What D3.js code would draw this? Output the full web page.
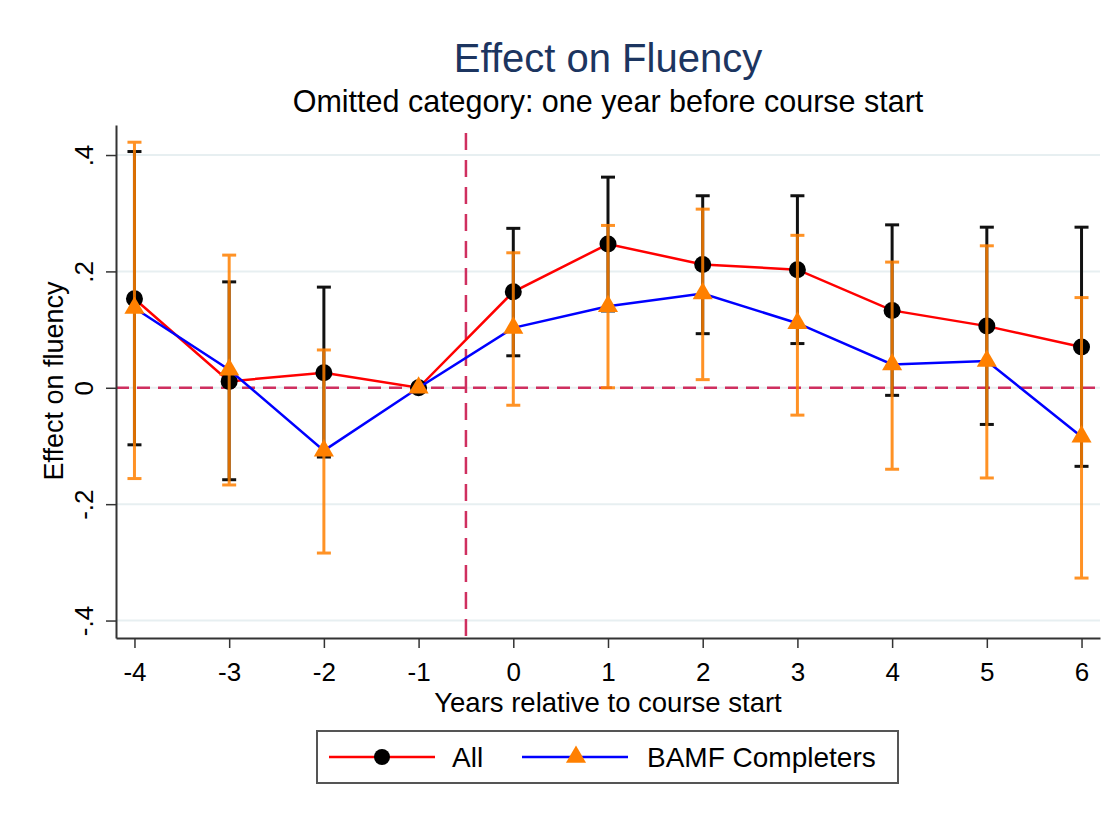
<!DOCTYPE html>
<html>
  <head>
    <meta charset="UTF-8">
    <script src="https://d3js.org/d3.v7.min.js" charset="utf-8"></script>
    <title>Effect on Fluency</title>
    <style>
      body { margin: 0; background: #fff; }
      text { font-family: "Liberation Sans", Arial, sans-serif; }
    </style>
  </head>
  <body>
    <svg class="chart"></svg>
    <script type="text/javascript">

     // values
     var years = [-4, -3, -2, -1, 0, 1, 2, 3, 4, 5, 6];
     var allCoef = [0.153, 0.011, 0.026, 0, 0.165, 0.247, 0.212, 0.203, 0.133, 0.106, 0.070];
     var allLo   = [-0.098, -0.158, -0.119, null, 0.055, 0.132, 0.093, 0.076, -0.013, -0.063, -0.135];
     var allHi   = [0.406, 0.182, 0.173, null, 0.274, 0.362, 0.330, 0.330, 0.280, 0.276, 0.276];
     var bamfCoef = [0.137, 0.031, -0.108, 0, 0.103, 0.140, 0.162, 0.111, 0.040, 0.046, -0.084];
     var bamfLo   = [-0.156, -0.167, -0.284, null, -0.030, 0.000, 0.014, -0.047, -0.140, -0.155, -0.327];
     var bamfHi   = [0.422, 0.228, 0.065, null, 0.232, 0.279, 0.307, 0.262, 0.216, 0.244, 0.155];
     var yTicks = [-0.4, -0.2, 0, 0.2, 0.4];
     var yTickLabels = ["-.4", "-.2", "0", ".2", ".4"];
     var legendNames = ["All", "BAMF Completers"];

     var width = 1119,
         height = 820,
         plotLeft = 116, plotRight = 1100,
         plotTop = 125, plotBottom = 638,
         capW = 7;

     var chart = d3.select(".chart")
                   .attr("width", width)
                   .attr("height", height);

     var x = d3.scaleLinear().domain([-4.195, 6.195]).range([plotLeft, plotRight]);
     var y = d3.scaleLinear().domain([-0.43, 0.4516]).range([plotBottom, plotTop]);

     function rows(coef, lo, hi) {
         return years.map(function(yr, i) {
             return {yr: yr, c: coef[i], lo: lo[i], hi: hi[i]};
         });
     }
     var allRows = rows(allCoef, allLo, allHi);
     var bamfRows = rows(bamfCoef, bamfLo, bamfHi);

     // grid
     chart.append("g").selectAll("line")
          .data(yTicks).enter().append("line")
          .attr("x1", plotLeft).attr("x2", plotRight)
          .attr("y1", function(d) { return y(d); })
          .attr("y2", function(d) { return y(d); })
          .attr("stroke", "#e7eff1").attr("stroke-width", 2);

     // reference lines
     chart.append("line")
          .attr("x1", plotLeft).attr("x2", plotRight)
          .attr("y1", y(0)).attr("y2", y(0))
          .attr("stroke", "#cf2f5f").attr("stroke-width", 2.5)
          .attr("stroke-dasharray", "13,8");
     chart.append("line")
          .attr("x1", x(-0.5)).attr("x2", x(-0.5))
          .attr("y1", plotTop).attr("y2", plotBottom)
          .attr("stroke", "#cf2f5f").attr("stroke-width", 2.5)
          .attr("stroke-dasharray", "17,10")
          .attr("stroke-dashoffset", -8);

     // axes
     var yAxis = chart.append("g")
          .attr("transform", "translate(" + plotLeft + ",0)")
          .call(d3.axisLeft(y).tickValues(yTicks).tickSize(10).tickSizeOuter(0)
                  .tickFormat(function(d, i) { return yTickLabels[i]; }));
     yAxis.select(".domain").attr("stroke", "#333").attr("stroke-width", 2);
     yAxis.selectAll(".tick line").attr("stroke", "#333").attr("stroke-width", 1.5);
     yAxis.selectAll(".tick text")
          .attr("transform", "rotate(-90)")
          .attr("x", 0).attr("y", -23).attr("dy", 0)
          .attr("text-anchor", "middle")
          .attr("fill", "#000")
          .style("font-size", "26px");

     var xAxis = chart.append("g")
          .attr("transform", "translate(0," + plotBottom + ")")
          .call(d3.axisBottom(x).tickValues(years).tickSize(10).tickSizeOuter(0)
                  .tickFormat(function(d) { return String(d); }));
     xAxis.select(".domain").attr("stroke", "#333").attr("stroke-width", 2);
     xAxis.selectAll(".tick line").attr("stroke", "#333").attr("stroke-width", 1.5);
     xAxis.selectAll(".tick text")
          .attr("y", 43).attr("dy", 0)
          .attr("fill", "#000")
          .style("font-size", "26px");

     // confidence intervals
     function drawCI(data, color, opacity) {
         var g = chart.append("g")
                      .attr("stroke", color)
                      .attr("stroke-width", 3)
                      .attr("opacity", opacity);
         var d = data.filter(function(r) { return r.lo !== null; });
         g.selectAll(".bar").data(d).enter().append("line")
          .attr("x1", function(r) { return x(r.yr); })
          .attr("x2", function(r) { return x(r.yr); })
          .attr("y1", function(r) { return y(r.lo); })
          .attr("y2", function(r) { return y(r.hi); });
         ["lo", "hi"].forEach(function(k) {
             g.selectAll(".cap-" + k).data(d).enter().append("line")
              .attr("x1", function(r) { return x(r.yr) - capW; })
              .attr("x2", function(r) { return x(r.yr) + capW; })
              .attr("y1", function(r) { return y(r[k]); })
              .attr("y2", function(r) { return y(r[k]); });
         });
     }

     var line = d3.line()
                  .x(function(r) { return x(r.yr); })
                  .y(function(r) { return y(r.c); });

     var tri = d3.symbol().type(d3.symbolTriangle).size(175);

     // All
     drawCI(allRows, "#111", 1);
     chart.append("path").datum(allRows)
          .attr("d", line).attr("fill", "none")
          .attr("stroke", "#ff0000").attr("stroke-width", 2.5);
     chart.append("g").selectAll("circle")
          .data(allRows).enter().append("circle")
          .attr("cx", function(r) { return x(r.yr); })
          .attr("cy", function(r) { return y(r.c); })
          .attr("r", 8.5).attr("fill", "#000");

     // BAMF Completers
     drawCI(bamfRows, "#ff8000", 0.85);
     chart.append("path").datum(bamfRows)
          .attr("d", line).attr("fill", "none")
          .attr("stroke", "#0000ff").attr("stroke-width", 2.5);
     chart.append("g").selectAll("path")
          .data(bamfRows).enter().append("path")
          .attr("d", tri)
          .attr("transform", function(r) { return "translate(" + x(r.yr) + "," + y(r.c) + ")"; })
          .attr("fill", "#ff8000");

     // titles
     chart.append("text")
          .attr("x", 608).attr("y", 72)
          .attr("text-anchor", "middle")
          .attr("fill", "#1c3560")
          .style("font-size", "40px")
          .text("Effect on Fluency");
     chart.append("text")
          .attr("x", 608).attr("y", 112)
          .attr("text-anchor", "middle")
          .attr("fill", "#000")
          .style("font-size", "30.5px")
          .text("Omitted category: one year before course start");
     chart.append("text")
          .attr("x", 608).attr("y", 712)
          .attr("text-anchor", "middle")
          .attr("fill", "#000")
          .style("font-size", "27.5px")
          .text("Years relative to course start");
     chart.append("text")
          .attr("transform", "translate(63,381) rotate(-90)")
          .attr("text-anchor", "middle")
          .attr("fill", "#000")
          .style("font-size", "27px")
          .text("Effect on fluency");

     // legend
     var leg = chart.append("g");
     leg.append("rect")
        .attr("x", 317).attr("y", 731).attr("width", 581).attr("height", 52)
        .attr("fill", "#fff").attr("stroke", "#555").attr("stroke-width", 2);
     leg.append("line").attr("x1", 329).attr("x2", 435).attr("y1", 757).attr("y2", 757)
        .attr("stroke", "#ff0000").attr("stroke-width", 2.5);
     leg.append("circle").attr("cx", 382).attr("cy", 757).attr("r", 8).attr("fill", "#000");
     leg.append("text").attr("x", 452).attr("y", 767)
        .style("font-size", "28px").attr("fill", "#000").text(legendNames[0]);
     leg.append("line").attr("x1", 522).attr("x2", 628).attr("y1", 757).attr("y2", 757)
        .attr("stroke", "#0000ff").attr("stroke-width", 2.5);
     leg.append("path").attr("d", tri)
        .attr("transform", "translate(576,757)").attr("fill", "#ff8000");
     leg.append("text").attr("x", 647).attr("y", 767)
        .style("font-size", "28px").attr("fill", "#000").text(legendNames[1]);

    </script>
  </body>
</html>
